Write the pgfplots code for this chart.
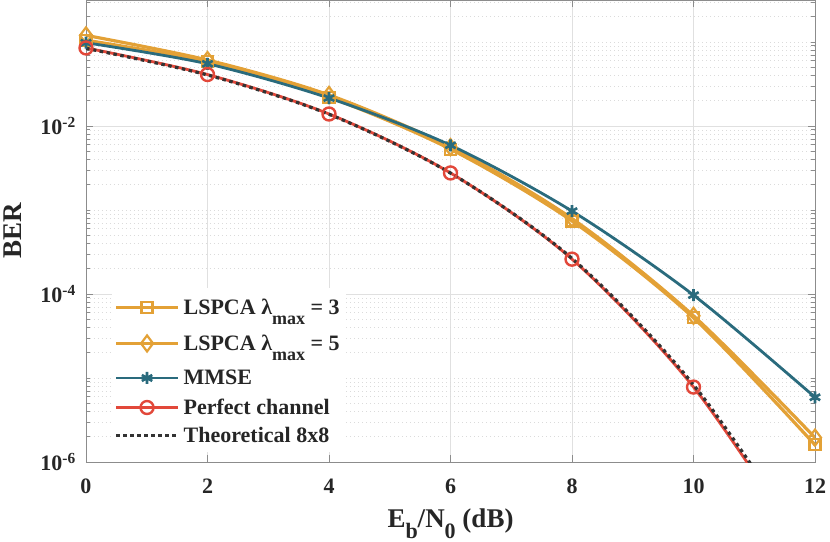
\documentclass[border=0pt]{standalone}
\usepackage{pgfplots}
\pgfplotsset{compat=1.18}
\usepackage{fontspec}
\setmainfont{Liberation Serif}
\definecolor{corange}{HTML}{E3A136}
\definecolor{cteal}{HTML}{2A6B7D}
\definecolor{cred}{HTML}{E2483A}
\definecolor{cdot}{HTML}{333333}
\definecolor{caxis}{HTML}{8C8C8C}
\definecolor{ctext}{HTML}{262626}
\newcommand{\lsub}[1]{\raisebox{-0.45em}{\fontsize{18bp}{20bp}\selectfont #1}}
\newcommand{\xsub}[1]{\raisebox{-0.40em}{\fontsize{22bp}{24bp}\selectfont #1}}
\begin{document}
\begin{tikzpicture}
\begin{axis}[
  name=ax,
  scale only axis, width=729bp, height=462bp,
  xmin=0, xmax=12, ymode=log, ymin=1e-6, ymax=0.316228,
  xtick={0,2,4,6,8,10,12},
  ytick={1e-6,1e-4,1e-2},
  yticklabels={10\textsuperscript{-6},10\textsuperscript{-4},10\textsuperscript{-2}},
  minor ytick={2e-6,3e-6,4e-6,5e-6,6e-6,7e-6,8e-6,9e-6,1e-5,2e-5,3e-5,4e-5,5e-5,6e-5,7e-5,8e-5,9e-5,
    2e-4,3e-4,4e-4,5e-4,6e-4,7e-4,8e-4,9e-4,1e-3,2e-3,3e-3,4e-3,5e-3,6e-3,7e-3,8e-3,9e-3,
    2e-2,3e-2,4e-2,5e-2,6e-2,7e-2,8e-2,9e-2,1e-1,2e-1,3e-1},
  grid=both,
  major grid style={black!12, line width=0.6bp},
  minor grid style={black!14, dash pattern=on 1bp off 3bp, line width=0.5bp},
  axis line style={caxis, line width=0.8bp},
  tick style={caxis, line width=0.8bp},
  major tick length=7bp, minor tick length=4bp,
  tick align=inside,
  /pgf/number format/assume math mode=true,
  ticklabel style={font=\fontsize{22bp}{26bp}\selectfont\bfseries, text=ctext},
  xticklabel style={inner sep=0pt, anchor=north, yshift=-17bp},
  yticklabel style={inner sep=0pt, anchor=east, xshift=-10bp},
  xlabel={E\xsub{b}/N\xsub{0} (dB)},
  ylabel={BER},
  xlabel style={at={(axis description cs:0.5,-0.1420)}, anchor=base, inner sep=0pt, font=\fontsize{27bp}{30bp}\selectfont\bfseries, text=ctext},
  ylabel style={at={(axis description cs:-0.1125,0.5)}, anchor=north, inner sep=0pt, font=\fontsize{27bp}{30bp}\selectfont\bfseries, text=ctext},
  legend style={at={(0.036,0.376)}, anchor=north west, draw=none, fill=white,
    font=\fontsize{22bp}{26bp}\selectfont\bfseries, text=ctext,
    inner xsep=2bp, inner ysep=1bp,
    nodes={inner ysep=5bp, inner xsep=4bp}},
  legend cell align=left,
  every axis plot/.append style={
    legend image code/.code={\draw[mark repeat=2,mark phase=2] plot coordinates {(0bp,0bp) (31bp,0bp) (62bp,0bp)};}},
]
\addplot[corange, line width=3.2bp, smooth, tension=0.5, mark=square, mark size=5.5bp, mark options={solid, line width=2.2bp}]
  coordinates {(0,0.105) (2,0.058) (4,0.022) (6,5.3e-3) (8,7.4e-4) (10,5.2e-5) (12,1.6e-6)};
\addlegendentry[inner ysep=9.5bp]{LSPCA λ\lsub{max} = 3}
\addplot[corange, line width=3.2bp, smooth, tension=0.5, mark=diamond, mark size=8bp, mark options={solid, line width=2.2bp}]
  coordinates {(0,0.120) (2,0.061) (4,0.0234) (6,5.6e-3) (8,7.9e-4) (10,5.5e-5) (12,1.95e-6)};
\addlegendentry[inner ysep=9.5bp]{LSPCA λ\lsub{max} = 5}
\addplot[cteal, line width=2.8bp, smooth, tension=0.5, mark=asterisk, mark size=6bp, mark options={solid, line width=2.6bp}]
  coordinates {(0,0.098) (2,0.055) (4,0.0215) (6,5.9e-3) (8,9.7e-4) (10,9.7e-5) (12,5.9e-6)};
\addlegendentry[inner ysep=8.5bp]{MMSE}
\addplot[cred, line width=2.8bp, smooth, tension=0.5, mark=o, mark size=6.5bp, mark options={solid, line width=2.4bp}]
  coordinates {(0,0.085) (2,0.041) (4,0.0139) (6,2.76e-3) (8,2.6e-4) (10,7.8e-6) (12,6e-8)};
\addlegendentry[inner ysep=4.5bp]{Perfect channel}
\addplot[cdot, line width=3.2bp, smooth, tension=0.5, dash pattern=on 3.5bp off 3.5bp]
  coordinates {(0,0.084) (2,0.0405) (4,0.0138) (6,2.75e-3) (8,2.65e-4) (10,8.3e-6) (12,7e-8)};
\addlegendentry[inner ysep=7bp]{Theoretical 8x8}
\end{axis}
\pgfresetboundingbox
\path[use as bounding box] ([xshift=-86bp,yshift=-80bp]ax.south west) rectangle ([xshift=15bp]ax.north east);
\end{tikzpicture}
\end{document}
